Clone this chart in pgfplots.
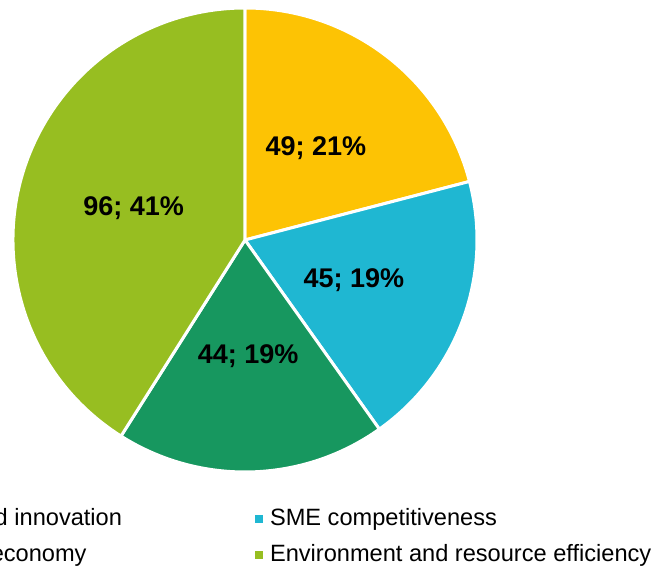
\documentclass[border=0pt]{standalone}
\usepackage{pgfplots}
\pgfplotsset{compat=1.18}
\usepackage{pgfplotstable}
\usepackage{fontspec}
\setmainfont{Liberation Sans}

\definecolor{cYellow}{HTML}{FDC304}
\definecolor{cCyan}{HTML}{1FB7D2}
\definecolor{cGreen}{HTML}{17975F}
\definecolor{cLime}{HTML}{97BE21}

\pgfplotstableread[col sep=comma]{
label,value,color
Research and innovation,49,cYellow
SME competitiveness,45,cCyan
Low-carbon economy,44,cGreen
Environment and resource efficiency,96,cLime
}\piedata

\tikzset{pielabel/.style={font=\bfseries\fontsize{13.5}{16}\selectfont, inner sep=0pt, text=black}}

\begin{document}
\begin{tikzpicture}
\pgfplotstablegetrowsof{\piedata}\pgfmathtruncatemacro\nlast{\pgfplotsretval-1}
\gdef\total{0}
\pgfplotsforeachungrouped \i in {0,...,\nlast}{%
  \pgfplotstablegetelem{\i}{value}\of\piedata
  \pgfmathsetmacro\tmp{\total+\pgfplotsretval}\xdef\total{\tmp}}
\gdef\cur{90}\gdef\piecmds{}\gdef\labcmds{}\gdef\legcmds{}
\pgfplotsforeachungrouped \i in {0,...,\nlast}{%
  \pgfplotstablegetelem{\i}{value}\of\piedata\let\vv\pgfplotsretval
  \pgfplotstablegetelem{\i}{color}\of\piedata\let\cc\pgfplotsretval
  \pgfplotstablegetelem{\i}{label}\of\piedata\let\lbl\pgfplotsretval
  \pgfmathsetmacro\ee{\cur-(\vv/\total)*360}%
  \pgfmathsetmacro\mm{(\cur+\ee)/2}%
  \pgfmathtruncatemacro\pp{round((\vv/\total)*100)}%
  \xdef\piecmds{\unexpanded\expandafter{\piecmds}\noexpand\fill[fill=\cc,draw=white,line width=1.5pt,line join=round] (axis cs:0,0) -- (axis cs:{cos(\cur)},{sin(\cur)}) arc[start angle=\cur,end angle=\ee,radius=116pt] -- cycle;}%
  \xdef\labcmds{\unexpanded\expandafter{\labcmds}\noexpand\node[pielabel] at (axis cs:{0.5*cos(\mm)},{0.5*sin(\mm)}) {\vv; \pp\noexpand\%};}%
  \xdef\legcmds{\unexpanded\expandafter{\legcmds}\noexpand\addlegendimage{fill=\cc,draw=none}\noexpand\addlegendentry{\lbl}}%
  \xdef\cur{\ee}%
}
\path[use as bounding box, clip] (-122.5pt,-165.5pt) rectangle (207pt,120pt);
\begin{axis}[
  hide axis,
  x=116pt, y=116pt,
  xmin=-1, xmax=1, ymin=-1, ymax=1,
  at={(-116pt,-116pt)}, anchor=south west,
  clip=false,
  legend image code/.code={\fill[#1,draw=none] (0pt,-2pt) rectangle (4pt,2pt);},
  legend columns=2,
  legend cell align=left,
  legend style={
    at={(-0.36,-0.0776)}, anchor=north west,
    draw=none, fill=none, inner sep=0pt, outer sep=0pt,
    font=\fontsize{11.8}{14}\selectfont,
    row sep=7pt,
    nodes={inner sep=0pt, text height=8.5pt, text depth=2.5pt},
    /tikz/every odd column/.append style={column sep=3.5pt},
    /tikz/every even column/.append style={column sep=66.5pt},
  },
]
\piecmds
\labcmds
\legcmds
\end{axis}
\end{tikzpicture}
\end{document}
